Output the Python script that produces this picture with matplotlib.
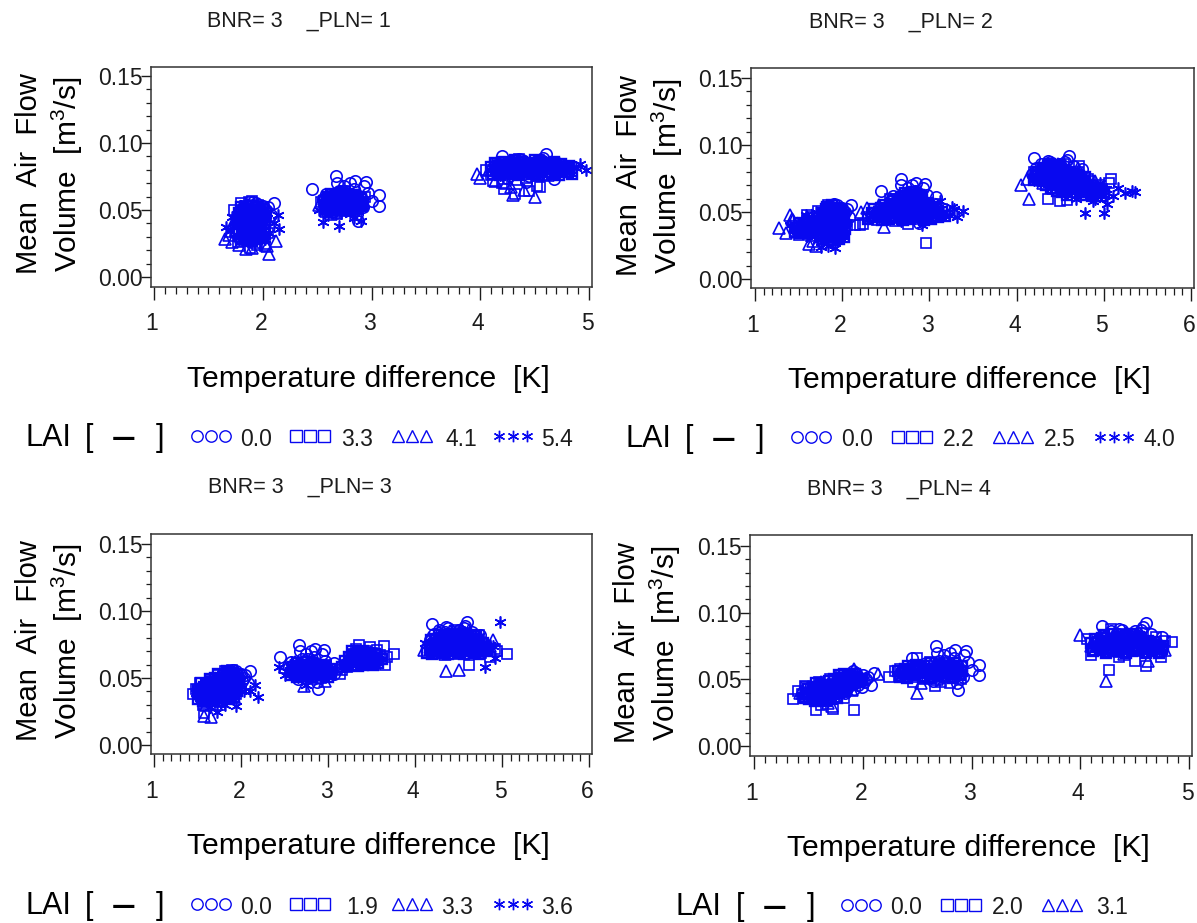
import matplotlib
matplotlib.use("Agg")
import matplotlib.pyplot as plt
from matplotlib.lines import Line2D

plt.rcParams['font.family'] = ['Liberation Sans', 'DejaVu Sans']
plt.rcParams['mathtext.fontset'] = 'custom'
plt.rcParams['mathtext.rm'] = 'Liberation Sans'
plt.rcParams['mathtext.default'] = 'regular'

# Shared reference series (LAI 0.0) - the same in all panels
C_X = [1.78,1.80,1.82,1.84,1.86,1.88,1.90,1.92,1.94,1.96,1.98,2.00,1.79,1.83,1.87,1.91,1.95,1.99,2.03,1.81,1.85,1.89,1.93,1.97,2.01,2.05,2.10,2.08,
       2.45,2.67,2.58,2.62,2.70,2.75,2.80,2.85,2.90,2.95,3.00,3.07,3.07,2.88,2.60,2.65,2.72,2.78,2.84,2.92,2.97,2.55,2.68,2.74,2.82,2.87,2.93,2.76,2.86,
       4.20,4.22,4.28,4.32,4.36,4.40,4.45,4.50,4.55,4.60,4.58,4.65,4.70,4.75,4.18,4.25,4.30,4.38,4.42,4.48,4.52,4.62,4.68,4.35,4.56,4.44]
C_Y = [.049,.044,.052,.040,.054,.047,.051,.043,.055,.046,.050,.053,.042,.048,.045,.056,.049,.044,.050,.046,.041,.053,.047,.051,.048,.052,.055,.046,
       .066,.075,.062,.058,.064,.068,.070,.072,.060,.071,.057,.061,.053,.042,.054,.049,.056,.061,.066,.052,.063,.058,.070,.052,.059,.047,.068,.064,.055,
       .090,.083,.086,.078,.088,.082,.075,.086,.080,.092,.089,.084,.078,.082,.078,.074,.081,.087,.071,.083,.076,.079,.073,.084,.087,.078]

# Panel 1
P1_SQ_X = [1.74,1.78,1.80,1.83,1.85,1.88,1.90,1.93,1.95,1.98,2.00,2.03,1.76,1.82,1.86,1.91,1.96,2.02,1.79,1.84,1.89,1.94,1.99,2.05,1.77,1.87,1.92,1.97,
           2.54,2.58,2.62,2.66,2.70,2.74,2.78,2.82,2.86,2.90,2.94,2.60,2.68,2.76,2.84,2.92,2.64,2.72,2.80,2.88,
           4.05,4.10,4.15,4.20,4.26,4.30,4.36,4.42,4.48,4.54,4.60,4.66,4.72,4.78,4.84,4.12,4.22,4.32,4.38,4.45,4.52,4.62,4.70,4.25,4.40,4.55,4.34]
P1_SQ_Y = [.050,.032,.055,.027,.045,.022,.057,.038,.024,.052,.030,.044,.042,.036,.028,.048,.054,.023,.046,.053,.035,.029,.040,.033,.026,.056,.043,.034,
           .056,.052,.060,.048,.058,.055,.062,.050,.057,.053,.060,.054,.047,.064,.051,.056,.061,.049,.058,.053,
           .080,.076,.084,.070,.086,.078,.088,.074,.082,.087,.076,.085,.080,.083,.079,.072,.066,.062,.085,.064,.068,.082,.078,.081,.079,.067,.077]
P1_TR_X = [1.65,1.69,1.72,1.75,1.78,1.81,1.84,1.87,1.90,1.93,1.96,1.99,2.02,2.06,2.12,1.73,1.79,1.85,1.91,1.97,2.04,1.70,1.83,1.94,
           2.52,2.56,2.60,2.65,2.70,2.75,2.80,2.85,2.90,2.58,2.68,2.78,2.88,2.63,2.73,
           3.97,4.00,4.08,4.14,4.18,4.24,4.30,4.36,4.40,4.46,4.50,4.56,4.62,4.68,4.74,4.80,4.28,4.34,4.42,4.16]
P1_TR_Y = [.028,.031,.026,.035,.024,.042,.029,.045,.022,.038,.033,.047,.025,.017,.027,.040,.050,.021,.043,.036,.023,.034,.037,.026,
           .054,.058,.050,.060,.056,.052,.062,.055,.058,.049,.063,.057,.053,.047,.061,
           .077,.074,.080,.072,.084,.070,.061,.078,.065,.082,.060,.085,.076,.082,.079,.081,.067,.073,.086,.078]
P1_ST_X = [1.66,1.70,1.74,1.78,1.82,1.86,1.90,1.94,1.98,2.02,2.06,2.10,2.14,2.15,1.72,1.80,1.88,1.96,2.04,1.84,1.92,
           2.52,2.55,2.60,2.64,2.70,2.75,2.80,2.85,2.90,2.58,2.67,2.76,2.84,2.92,2.62,2.72,
           4.10,4.18,4.24,4.32,4.38,4.44,4.50,4.56,4.62,4.68,4.72,4.78,4.82,4.88,4.92,4.97,4.26,4.36,4.48,4.60,4.70,4.80,4.40,4.54]
P1_ST_Y = [.037,.034,.042,.030,.047,.026,.052,.036,.044,.028,.033,.040,.046,.036,.045,.039,.032,.050,.048,.055,.043,
           .050,.041,.046,.055,.038,.058,.047,.051,.042,.060,.049,.056,.044,.054,.052,.048,
           .080,.076,.083,.078,.084,.080,.086,.079,.083,.081,.085,.079,.082,.081,.084,.080,.075,.082,.078,.084,.079,.083,.076,.081]
# densely overplotted points in the solid centre of each cloud
P1_CORE_X = [1.80,1.85,1.90,1.95,2.00,1.78,1.83,1.88,1.93,1.98,2.02,1.81,1.86,1.91,1.96,2.01,1.77,1.82,1.87,1.92,1.97,2.02,1.79,1.84,1.89,1.94,1.99,1.78,1.83,1.88,1.93,1.98,2.03,1.80,1.85,1.90,1.95,2.00,
             2.57,2.62,2.67,2.72,2.77,2.82,2.87,2.91,2.59,2.64,2.69,2.74,2.79,2.84,2.89,2.56,2.61,2.66,2.71,2.76,2.81,2.86,2.92,2.60,2.65,2.70,2.75,2.80,2.85,2.90,2.63,2.68,2.73,2.78,2.83,2.88,
             4.12,4.18,4.24,4.30,4.36,4.42,4.48,4.54,4.60,4.66,4.72,4.78,4.84,4.15,4.21,4.27,4.33,4.39,4.45,4.51,4.57,4.63,4.69,4.75,4.81,4.10,4.16,4.22,4.28,4.34,4.40,4.46,4.52,4.58,4.64,4.70,4.76,4.82,4.14,4.20,4.26,4.32,4.38,4.44,4.50,4.56,4.62,4.68,4.74]
P1_CORE_Y = [.028,.029,.027,.028,.029,.032,.033,.031,.032,.033,.032,.036,.035,.037,.036,.035,.040,.041,.039,.040,.041,.040,.044,.043,.045,.044,.043,.048,.047,.049,.048,.047,.048,.052,.051,.053,.052,.051,
             .051,.050,.052,.051,.050,.052,.051,.053,.054,.055,.053,.054,.055,.053,.054,.057,.058,.056,.057,.058,.056,.057,.055,.060,.059,.061,.060,.059,.061,.058,.062,.061,.063,.062,.061,.060,
             .077,.076,.078,.077,.076,.078,.077,.076,.078,.077,.076,.078,.077,.080,.079,.081,.080,.079,.081,.080,.079,.081,.080,.079,.081,.082,.083,.082,.084,.083,.082,.084,.083,.082,.084,.083,.082,.083,.085,.086,.085,.087,.086,.085,.087,.086,.085,.086,.084]

# Panel 2
P2_SQ_X = [1.46,1.50,1.55,1.60,1.64,1.68,1.72,1.76,1.80,1.84,1.88,1.92,1.96,2.00,2.05,2.15,2.20,2.24,1.58,1.70,1.82,1.94,1.66,1.78,1.90,
           2.30,2.40,2.46,2.50,2.55,2.60,2.66,2.70,2.76,2.80,2.85,2.90,2.96,3.02,3.08,3.14,2.96,2.34,2.48,2.64,2.74,2.88,2.58,2.72,2.84,
           4.20,4.28,4.34,4.40,4.46,4.50,4.54,4.58,4.64,4.70,4.76,4.82,4.88,4.94,5.00,5.06,5.08,4.36,4.48,4.60,4.72,4.84,4.98]
P2_SQ_Y = [.036,.033,.042,.048,.032,.038,.051,.035,.044,.055,.030,.047,.052,.037,.040,.040,.040,.041,.034,.043,.050,.034,.046,.039,.053,
           .046,.044,.052,.048,.060,.043,.056,.050,.041,.063,.047,.058,.053,.049,.056,.052,.027,.049,.045,.060,.054,.045,.051,.058,.062,
           .080,.074,.083,.070,.078,.058,.086,.059,.072,.080,.066,.075,.062,.070,.065,.072,.075,.060,.082,.076,.084,.073,.067]
P2_TR_X = [1.28,1.36,1.40,1.44,1.42,1.50,1.56,1.60,1.66,1.70,1.74,1.80,1.86,1.92,1.98,2.04,1.62,1.72,1.84,1.96,1.52,1.78,
           2.22,2.28,2.35,2.42,2.48,2.50,2.56,2.62,2.68,2.74,2.80,2.86,2.92,3.00,3.06,2.40,2.54,2.66,2.78,2.90,
           4.05,4.12,4.14,4.20,4.26,4.30,4.36,4.42,4.48,4.54,4.60,4.66,4.72,4.78,4.84,4.90,4.96,4.24,4.40,4.56,4.70]
P2_TR_Y = [.038,.034,.048,.044,.045,.040,.037,.046,.028,.025,.033,.049,.041,.052,.036,.045,.026,.043,.030,.047,.035,.052,
           .050,.053,.047,.055,.039,.052,.060,.046,.062,.056,.048,.065,.052,.055,.048,.050,.054,.063,.050,.058,
           .070,.075,.060,.080,.083,.072,.078,.068,.086,.074,.080,.066,.077,.071,.068,.073,.067,.077,.085,.076,.083]
P2_ST_X = [1.40,1.48,1.54,1.60,1.66,1.72,1.76,1.80,1.84,1.88,1.92,1.96,2.00,2.04,1.58,1.70,1.82,1.90,1.74,1.86,
           2.36,2.44,2.52,2.60,2.68,2.74,2.80,2.86,2.92,2.98,3.04,3.10,3.16,3.22,3.28,3.32,3.38,3.26,3.12,2.90,
           4.20,4.30,4.40,4.50,4.56,4.62,4.68,4.74,4.78,4.84,4.90,4.96,5.00,5.04,5.10,5.16,5.24,5.32,5.36,4.42,4.60,4.72,4.88,5.02]
P2_ST_Y = [.040,.036,.044,.032,.038,.029,.024,.047,.025,.052,.023,.040,.034,.042,.048,.050,.034,.044,.038,.055,
           .048,.052,.045,.056,.043,.060,.049,.064,.040,.055,.047,.053,.050,.048,.052,.046,.051,.054,.058,.046,
           .074,.082,.068,.080,.065,.072,.060,.076,.049,.066,.060,.072,.049,.056,.062,.068,.064,.066,.065,.078,.070,.064,.058,.067]
P2_CORE_X = [1.46,1.52,1.58,1.64,1.70,1.48,1.54,1.60,1.66,1.72,1.50,1.56,1.62,1.68,1.74,1.78,1.84,1.90,1.96,2.02,1.76,1.82,1.88,1.94,2.00,1.79,1.85,1.91,1.97,2.03,1.77,1.83,1.89,1.95,2.01,1.80,1.86,1.92,1.98,1.78,1.84,1.90,1.96,2.02,1.81,1.87,1.93,1.99,1.82,1.88,1.94,
             2.30,2.38,2.46,2.54,2.62,2.70,2.78,2.86,2.94,3.02,3.10,3.18,2.34,2.42,2.50,2.58,2.66,2.74,2.82,2.90,2.98,3.06,3.14,2.36,2.44,2.52,2.60,2.68,2.76,2.84,2.92,3.00,3.08,2.48,2.56,2.64,2.72,2.80,2.88,2.96,3.04,2.58,2.66,2.74,2.82,2.90,2.98,2.68,2.76,2.84,2.92,2.72,2.80,2.88,
             4.22,4.28,4.34,4.40,4.46,4.52,4.58,4.64,4.70,4.76,4.82,4.88,4.94,5.00,4.25,4.31,4.37,4.43,4.49,4.55,4.61,4.67,4.73,4.79,4.85,4.91,4.97,4.20,4.26,4.32,4.38,4.44,4.50,4.56,4.62,4.68,4.74,4.80,4.86,4.30,4.36,4.42,4.48,4.54,4.60,4.66,4.72,4.78,4.84,4.34,4.40,4.46,4.52,4.58,4.38,4.44,4.50]
P2_CORE_Y = [.035,.034,.036,.035,.034,.038,.039,.037,.038,.039,.042,.041,.043,.042,.041,.030,.031,.029,.030,.031,.034,.035,.033,.034,.035,.038,.037,.039,.038,.037,.042,.043,.041,.042,.043,.046,.045,.047,.046,.049,.050,.048,.049,.048,.052,.051,.052,.051,.054,.055,.053,
             .045,.046,.044,.045,.046,.044,.045,.046,.044,.045,.046,.047,.049,.050,.048,.049,.050,.048,.049,.050,.048,.049,.050,.052,.053,.051,.052,.053,.051,.052,.053,.051,.052,.055,.056,.054,.055,.056,.054,.055,.054,.058,.059,.057,.058,.059,.057,.061,.062,.060,.061,.064,.065,.063,
             .077,.078,.076,.077,.075,.073,.074,.072,.071,.069,.070,.068,.066,.065,.080,.081,.079,.080,.078,.077,.075,.074,.073,.072,.067,.064,.062,.074,.075,.073,.074,.072,.071,.069,.068,.067,.065,.063,.062,.083,.084,.082,.083,.081,.080,.078,.077,.076,.065,.070,.068,.066,.065,.063,.086,.085,.084]

# Panel 3
P3_SQ_X = [1.45,1.48,1.50,1.53,1.56,1.58,1.60,1.63,1.66,1.70,1.74,1.78,1.82,1.86,1.90,1.94,1.96,1.52,1.68,1.72,1.80,1.84,1.88,1.92,1.76,
           2.80,2.86,2.92,2.98,3.04,3.10,3.14,3.20,3.24,3.28,3.32,3.36,3.40,3.44,3.48,3.52,3.56,3.60,3.64,3.68,3.76,3.66,3.16,3.26,3.34,3.42,3.50,3.22,
           4.30,4.40,4.46,4.52,4.58,4.62,4.70,4.74,4.80,4.86,4.92,4.94,5.06,4.36,4.48,4.66,4.56,4.76]
P3_SQ_Y = [.038,.042,.034,.046,.030,.024,.044,.036,.048,.040,.052,.034,.055,.044,.056,.038,.052,.041,.045,.033,.050,.036,.048,.043,.030,
           .052,.058,.050,.060,.054,.057,.053,.060,.064,.068,.072,.075,.066,.070,.073,.064,.071,.067,.074,.066,.068,.060,.056,.062,.070,.065,.069,.058,
           .072,.080,.068,.084,.075,.060,.078,.082,.074,.066,.072,.070,.068,.076,.086,.072,.079,.069]
P3_TR_X = [1.50,1.55,1.58,1.62,1.65,1.68,1.72,1.76,1.80,1.84,1.88,1.92,1.96,1.60,1.70,1.78,1.86,
           2.50,2.56,2.62,2.68,2.72,2.76,2.80,2.84,2.90,2.96,3.02,2.64,2.74,2.86,2.94,
           4.10,4.16,4.22,4.28,4.34,4.36,4.42,4.46,4.50,4.56,4.62,4.68,4.74,4.80,4.86,4.90,4.26,4.40,4.58,4.72]
P3_TR_Y = [.040,.035,.022,.044,.021,.037,.047,.033,.051,.040,.054,.036,.048,.030,.043,.050,.046,
           .058,.056,.062,.052,.044,.060,.050,.063,.054,.048,.058,.058,.054,.059,.055,
           .071,.080,.076,.084,.068,.055,.078,.082,.056,.074,.086,.072,.080,.076,.074,.078,.070,.085,.078,.074]
P3_ST_X = [1.48,1.54,1.60,1.64,1.72,1.76,1.82,1.88,1.94,1.98,2.04,2.16,2.20,2.10,1.68,1.80,
           2.44,2.50,2.56,2.62,2.70,2.75,2.80,2.86,2.92,2.98,3.04,2.66,2.78,2.88,
           4.12,4.22,4.30,4.38,4.44,4.50,4.56,4.62,4.68,4.74,4.80,4.86,4.92,4.98,4.90,4.28,4.46,4.60,4.72]
P3_ST_Y = [.039,.044,.033,.028,.025,.043,.030,.050,.029,.041,.040,.045,.036,.040,.047,.037,
           .058,.052,.060,.054,.049,.045,.062,.056,.050,.060,.055,.051,.058,.053,
           .076,.070,.082,.074,.080,.084,.072,.078,.074,.081,.058,.075,.065,.092,.074,.078,.071,.082,.076]
P3_CORE_X = [1.50,1.56,1.62,1.68,1.74,1.80,1.86,1.92,1.53,1.59,1.65,1.71,1.77,1.83,1.89,1.95,1.50,1.56,1.62,1.68,1.74,1.80,1.86,1.92,1.54,1.60,1.66,1.72,1.78,1.84,1.90,1.96,1.64,1.70,1.76,1.82,1.88,1.94,1.74,1.80,1.86,1.92,1.84,1.90,1.95,
             2.58,2.64,2.70,2.76,2.82,2.88,2.94,3.00,3.04,2.61,2.67,2.73,2.79,2.85,2.91,2.97,3.03,2.60,2.66,2.72,2.78,2.84,2.90,2.96,3.02,2.64,2.70,2.76,2.82,2.88,2.94,
             3.16,3.22,3.28,3.34,3.40,3.46,3.52,3.58,3.20,3.26,3.32,3.38,3.44,3.50,3.56,3.62,3.24,3.30,3.36,3.42,3.48,3.54,3.28,3.34,3.40,3.46,
             4.14,4.20,4.26,4.32,4.38,4.44,4.50,4.56,4.62,4.68,4.74,4.80,4.17,4.23,4.29,4.35,4.41,4.47,4.53,4.59,4.65,4.71,4.77,4.83,4.20,4.26,4.32,4.38,4.44,4.50,4.56,4.62,4.68,4.74,4.18,4.24,4.30,4.36,4.42,4.48,4.54,4.60,4.66,4.72,4.78,4.28,4.34,4.40,4.46,4.52,4.58,4.64,4.70]
P3_CORE_Y = [.034,.033,.035,.034,.033,.035,.034,.036,.038,.037,.039,.038,.037,.039,.038,.040,.041,.042,.043,.042,.041,.043,.042,.044,.046,.045,.047,.046,.045,.047,.046,.048,.049,.050,.049,.050,.051,.050,.053,.052,.054,.053,.055,.054,.052,
             .052,.051,.053,.052,.051,.053,.052,.051,.053,.055,.054,.056,.055,.054,.056,.055,.054,.058,.059,.057,.058,.059,.057,.058,.057,.061,.060,.062,.061,.060,.059,
             .058,.059,.060,.059,.060,.061,.060,.061,.063,.062,.064,.063,.064,.063,.065,.064,.066,.067,.066,.067,.066,.068,.070,.069,.070,.069,
             .069,.068,.070,.069,.068,.070,.069,.068,.070,.069,.068,.070,.072,.073,.071,.072,.073,.071,.072,.073,.071,.072,.073,.071,.075,.076,.074,.075,.076,.074,.075,.076,.074,.075,.078,.079,.077,.078,.079,.077,.078,.079,.077,.078,.076,.082,.081,.083,.082,.081,.083,.082,.081]

# Panel 4
P4_SQ_X = [1.36,1.40,1.44,1.47,1.50,1.54,1.57,1.60,1.64,1.66,1.70,1.73,1.76,1.80,1.83,1.86,1.90,1.92,1.48,1.58,1.68,1.78,1.62,1.74,1.84,
           2.24,2.30,2.36,2.42,2.46,2.50,2.56,2.60,2.66,2.70,2.76,2.80,2.86,2.90,2.34,2.48,2.62,2.72,2.84,2.54,2.64,2.78,
           4.06,4.10,4.16,4.20,4.24,4.28,4.32,4.36,4.40,4.46,4.50,4.56,4.60,4.66,4.70,4.74,4.78,4.84,4.26,4.38,4.52,4.72,4.44,4.58]
P4_SQ_Y = [.035,.041,.039,.045,.037,.042,.027,.048,.034,.043,.050,.028,.040,.053,.036,.047,.054,.027,.044,.035,.038,.046,.031,.044,.050,
           .052,.056,.054,.060,.048,.066,.050,.058,.045,.062,.055,.047,.060,.050,.058,.052,.063,.048,.058,.056,.051,.062,
           .080,.068,.078,.072,.070,.088,.076,.067,.084,.082,.064,.079,.060,.074,.082,.067,.079,.078,.057,.081,.075,.073,.077,.085]
P4_TR_X = [1.42,1.50,1.56,1.62,1.68,1.72,1.78,1.84,1.90,1.92,2.00,2.14,1.60,1.74,1.86,
           2.40,2.48,2.50,2.56,2.62,2.68,2.74,2.80,2.86,2.54,2.70,2.82,
           4.00,4.10,4.18,4.24,4.30,4.36,4.42,4.48,4.54,4.62,4.70,4.78,4.25,4.40,4.56]
P4_TR_Y = [.040,.044,.036,.048,.032,.030,.046,.052,.042,.058,.050,.054,.038,.040,.048,
           .054,.060,.040,.052,.058,.050,.062,.056,.060,.047,.056,.054,
           .083,.075,.082,.049,.076,.071,.085,.074,.080,.064,.076,.072,.078,.069,.084]
P4_CORE_X = [1.46,1.51,1.56,1.61,1.66,1.71,1.76,1.48,1.53,1.58,1.63,1.68,1.73,1.78,1.83,1.50,1.55,1.60,1.65,1.70,1.75,1.80,1.85,1.90,1.57,1.62,1.67,1.72,1.77,1.82,1.87,1.92,1.97,1.69,1.74,1.79,1.84,1.89,1.94,1.99,1.78,1.83,1.88,1.93,
             2.34,2.41,2.48,2.55,2.62,2.69,2.76,2.83,2.89,2.37,2.44,2.51,2.58,2.65,2.72,2.79,2.86,2.91,2.32,2.39,2.46,2.53,2.60,2.67,2.74,2.81,2.88,2.42,2.49,2.56,2.63,2.70,2.77,2.84,2.91,
             4.12,4.18,4.24,4.30,4.36,4.42,4.48,4.54,4.60,4.66,4.72,4.15,4.21,4.27,4.33,4.39,4.45,4.51,4.57,4.63,4.69,4.75,4.10,4.16,4.22,4.28,4.34,4.40,4.46,4.52,4.58,4.64,4.70,4.76,4.14,4.20,4.26,4.32,4.38,4.44,4.50,4.56,4.62,4.68,4.22,4.30,4.36,4.42,4.48,4.54]
P4_CORE_Y = [.036,.035,.034,.035,.034,.035,.036,.040,.039,.038,.039,.038,.039,.040,.041,.043,.044,.042,.043,.042,.043,.044,.045,.046,.047,.046,.045,.046,.047,.048,.047,.049,.048,.049,.050,.051,.050,.051,.052,.050,.053,.054,.053,.054,
             .052,.051,.053,.052,.051,.053,.052,.051,.053,.055,.054,.056,.055,.054,.056,.055,.054,.056,.056,.058,.057,.059,.058,.057,.059,.058,.057,.060,.061,.060,.062,.061,.060,.062,.060,
             .071,.072,.070,.071,.072,.070,.071,.072,.070,.071,.070,.074,.075,.073,.074,.075,.073,.074,.075,.073,.074,.073,.077,.078,.076,.077,.078,.076,.077,.078,.076,.077,.076,.075,.080,.081,.079,.080,.081,.079,.080,.081,.079,.078,.083,.084,.082,.083,.084,.082]

PANELS = [
    ('BNR= 3    _PLN= 1', 5, [('3.3', P1_SQ_X, P1_SQ_Y), ('4.1', P1_TR_X, P1_TR_Y), ('5.4', P1_ST_X, P1_ST_Y)], P1_CORE_X, P1_CORE_Y),
    ('BNR= 3    _PLN= 2', 6, [('2.2', P2_SQ_X, P2_SQ_Y), ('2.5', P2_TR_X, P2_TR_Y), ('4.0', P2_ST_X, P2_ST_Y)], P2_CORE_X, P2_CORE_Y),
    ('BNR= 3    _PLN= 3', 6, [('1.9', P3_SQ_X, P3_SQ_Y), ('3.3', P3_TR_X, P3_TR_Y), ('3.6', P3_ST_X, P3_ST_Y)], P3_CORE_X, P3_CORE_Y),
    ('BNR= 3    _PLN= 4', 5, [('2.0', P4_SQ_X, P4_SQ_Y), ('3.1', P4_TR_X, P4_TR_Y)], P4_CORE_X, P4_CORE_Y),
]
MARKERS = ['o', 's', '^', (6, 2, 0)]
SIZES = {'o': 8.2, 's': 7.8, '^': 8.4}
BLUE = '#0808f0'
INK = '#1c1c1c'

W, H = 1197, 923
fig = plt.figure(figsize=(W / 100, H / 100), dpi=100, facecolor='white')

def fx(px): return px / W
def fy(py): return 1 - py / H

GEOM = [
    dict(l=151, r=592, t=67, b=287, x0=154, x1=589, y0=277, y15=76,
         title=(299, 21), yl=(29, 67, 174), xl=(368, 379), tick=323,
         lai=25, leg=[197, 296, 398, 499], val=[240, 341, 445, 541], ly=436),
    dict(l=751, r=1194, t=68, b=288, x0=755, x1=1191, y0=279, y15=78,
         title=(901, 22), yl=(629, 667, 176), xl=(969, 380), tick=325,
         lai=625, leg=[797, 898, 999, 1100], val=[841, 943, 1044, 1143], ly=437),
    dict(l=151, r=592, t=534, b=754, x0=154, x1=589, y0=745, y15=544,
         title=(300, 487), yl=(29, 67, 641), xl=(368, 846), tick=792,
         lai=25, leg=[197, 296, 398, 499], val=[240, 346, 441, 541], ly=904),
    dict(l=750, r=1192, t=535, b=756, x0=754, x1=1189, y0=746, y15=546,
         title=(899, 489), yl=(627, 665, 643), xl=(968, 848), tick=794,
         lai=676, leg=[847, 947, 1048, 0], val=[890, 992, 1096, 0], ly=905),
]

for (title, xmax, series, core_x, core_y), g in zip(PANELS, GEOM):
    ax = fig.add_axes([fx(g['l']), fy(g['b']), (g['r'] - g['l']) / W, (g['b'] - g['t']) / H])
    xs = (xmax - 1) / (g['x1'] - g['x0'])
    ax.set_xlim(1 + (g['l'] - g['x0']) * xs, xmax + (g['r'] - g['x1']) * xs)
    ys = 0.15 / (g['y0'] - g['y15'])
    ax.set_ylim((g['y0'] - g['b']) * ys, (g['y0'] - g['t']) * ys)
    names = [('0.0', C_X, C_Y)] + series
    for (name, x, y), m in zip(names, MARKERS):
        ax.plot(x, y, marker=m, ms=SIZES.get(m, 8.6), mfc='none', mec=BLUE, mew=1.2, ls='none', clip_on=False)
    ax.plot(core_x, core_y, marker='s', ms=6.6, mfc='none', mec=BLUE, mew=1.7, ls='none')
    ax.plot(core_x, core_y, marker=MARKERS[len(names) - 1], ms=5.5, mfc='none', mec=BLUE, mew=1.5, ls='none')
    ax.set_xticks(range(1, xmax + 1))
    ax.set_xticks([1 + i / 10 for i in range((xmax - 1) * 10 + 1)], minor=True)
    ax.set_yticks([0, .05, .10, .15])
    ax.set_yticklabels(['0.00', '0.05', '0.10', '0.15'])
    ax.set_yticks([i / 100 for i in range(16)], minor=True)
    ax.tick_params(axis='x', which='major', length=9, width=1, color=INK, labelbottom=False)
    ax.tick_params(axis='x', which='minor', length=5, width=.9, color=INK)
    ax.tick_params(axis='y', which='major', length=7, width=1, color=INK, labelsize=16.5,
                   labelcolor=INK, pad=-1)
    ax.tick_params(axis='y', which='minor', length=3.5, width=.9, color=INK)
    for s in ax.spines.values():
        s.set_linewidth(1.1)
        s.set_color('#333333')
    for i in range(1, xmax + 1):
        px = g['x0'] + (i - 1) / (xmax - 1) * (g['x1'] - g['x0']) - 2
        fig.text(fx(px), fy(g['tick']), str(i), ha='center', va='center', fontsize=16.5, color=INK)
    fig.text(fx(g['title'][0]), fy(g['title'][1]), title, ha='center', va='center', fontsize=15.5, color=INK)
    fig.text(fx(g['xl'][0]), fy(g['xl'][1]), 'Temperature difference  [K]', ha='center', va='center',
             fontsize=21.7, color='black')
    fig.text(fx(g['yl'][0]), fy(g['yl'][2]), 'Mean  Air  Flow', rotation=90, ha='center', va='center',
             fontsize=21, color='black')
    fig.text(fx(g['yl'][1]), fy(g['yl'][2]), 'Volume  [m$^3$/s]', rotation=90, ha='center', va='center',
             fontsize=21.5, color='black')
    L = g['lai']
    fig.text(fx(L), fy(g['ly'] + 2), 'LAI', ha='left', va='center', fontsize=22, color='black')
    fig.text(fx(L + 60), fy(g['ly'] + 2), '[', ha='left', va='center', fontsize=22, color='black')
    fig.text(fx(L + 99), fy(g['ly'] + 2), '\u2014', ha='center', va='center', fontsize=17, weight='bold',
             family=['DejaVu Sans'], color='black')
    fig.text(fx(L + 131), fy(g['ly'] + 2), ']', ha='left', va='center', fontsize=22, color='black')
    for (name, _, _), m, lx, vx in zip(names, MARKERS, g['leg'], g['val']):
        for k in range(3):
            fig.add_artist(Line2D([fx(lx + k * 14)], [fy(g['ly'])], transform=fig.transFigure, marker=m,
                                  ms=8.2 if m != '^' else 8.2, mfc='none', mec=BLUE, mew=1.0, ls='none'))
        fig.text(fx(vx), fy(g['ly'] + 3), name, ha='left', va='center', fontsize=16.5, color=INK)

fig.savefig('out.png', dpi=100)
